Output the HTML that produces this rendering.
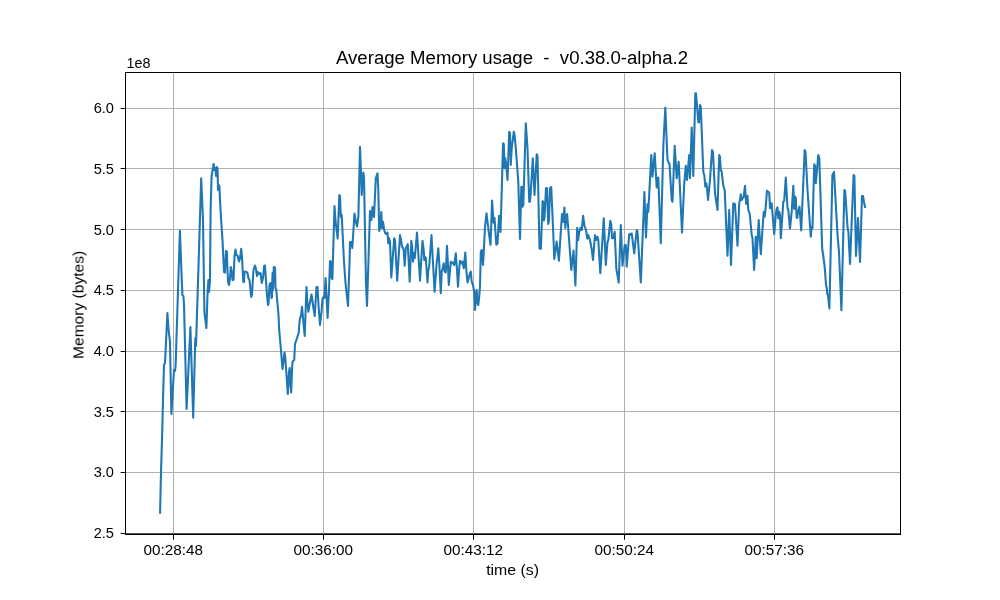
<!DOCTYPE html>
<html><head><meta charset="utf-8"><style>
html,body{margin:0;padding:0;background:#fff;width:1000px;height:600px;overflow:hidden}
svg{display:block}
.t{font-family:"Liberation Sans",sans-serif;font-size:14.4px;fill:#000}
.tt{font-family:"Liberation Sans",sans-serif;font-size:18px;fill:#000;white-space:pre}
</style></head><body>
<svg width="1000" height="600" viewBox="0 0 1000 600" shape-rendering="auto">
<rect x="125" y="533" width="776" height="1" fill="#b0b0b0"/>
<rect x="125" y="472" width="776" height="1" fill="#b0b0b0"/>
<rect x="125" y="411" width="776" height="1" fill="#b0b0b0"/>
<rect x="125" y="351" width="776" height="1" fill="#b0b0b0"/>
<rect x="125" y="290" width="776" height="1" fill="#b0b0b0"/>
<rect x="125" y="229" width="776" height="1" fill="#b0b0b0"/>
<rect x="125" y="168" width="776" height="1" fill="#b0b0b0"/>
<rect x="125" y="108" width="776" height="1" fill="#b0b0b0"/>
<rect x="173" y="72" width="1" height="462" fill="#b0b0b0"/>
<rect x="323" y="72" width="1" height="462" fill="#b0b0b0"/>
<rect x="473" y="72" width="1" height="462" fill="#b0b0b0"/>
<rect x="624" y="72" width="1" height="462" fill="#b0b0b0"/>
<rect x="774" y="72" width="1" height="462" fill="#b0b0b0"/>
<polyline points="160.1,512.7 161,472 162,440 163,400 164,365 165,363 167.4,313 168.6,330 170,342 171.4,414 174,370 175,371 175.6,366 179.9,230.8 181,260 182.4,295 183.4,296 184,304 186.6,409 190.4,327 193.2,417.6 195.3,338 196,346 199,250 201.2,178.4 203,220 204.4,312 206.4,328 207.6,292 208.4,280 209,292 210,280 210.6,210 211.6,176 212.6,170 213.6,164 214.4,170 215.4,168 216,176 217,167 217.6,170 218,190 218.6,185 219.4,186 220,200 221,218 222.5,240 224,272 225,272.5 226,251 226.8,251.5 228,282 229,285 230,278 230.8,267 231.5,270 232.5,280 233.5,280 234.5,256 235.5,249.5 236.2,255 237.5,255.5 239,261.5 240,258.5 241.2,248.8 242,257 243.3,282 244,282 244.5,272 246,271.5 247.5,273 248.5,278.5 249.5,280 251.2,297 252,294 253.5,270 255,265.5 256,269 257,276 258,272 259,274 260.5,273 261.8,283 263,278 264.2,265.8 265,265.5 266,281 267,295 268,305 268.5,304 269.5,285 270.5,283 271.5,298 272,297 272.5,273 273,290 273.8,267 275,267.5 275.5,288 276.2,289 277,298 278.5,315 279.2,330 280.8,348 282.5,369 284.5,352.5 285.3,358 286.7,378 287.8,394 289,372 289.7,368 290.3,383 291.2,392.5 292,370 292.5,361.7 294.2,360 295,344 296.7,339 298.7,333 299.2,325 300,318 301,316 302,306.7 303,318 304.7,336 306.5,287 307.2,300 308.3,311.7 309.5,305 311.5,294.5 313,305 314.7,316 316.5,287 317.5,287 318.5,305 320,325 321.5,312 322.5,299 323.5,297 324.4,298 325.6,278 327.6,318 329,290 330,261 331,262 331.6,278 332.4,279 334.5,206 335.6,222 337.7,238.5 339.3,195 340,196 340.8,216.7 341.7,215 344,262 345.6,284 348,306 349.6,260 350,242 351.5,242 352.3,248 354.5,213.5 355.5,220 357,226.5 358.4,216 360,146.7 361,173 361.7,195 363.3,172.5 364,178 366,284 367,306 368.5,260 370,211 371.4,220 372.5,207 374,217 375.8,178.3 377.5,173.3 378.3,190 379.2,231 380,228 381.3,212 382,228 383,221.7 384.2,230 385.3,233.3 386.5,234 387.5,232.5 388.3,243.3 389,238 390,241.7 391.3,277.5 394.2,238.3 395,240 397.2,280.8 400,235 401,240 402,246.7 403,248 403.7,250 404.7,265.8 405.8,248 406.7,246.7 407.8,244.2 409.7,281.7 411.3,240.8 412,245 413,261.7 413.7,253 414.7,258.3 415.5,250 417,232.5 420,280.8 422.5,240.8 423.7,250 424.3,260 425,257 425.8,258 427.5,282.5 428.3,270 429.2,266.7 431.5,235 432,245 434.6,291.7 436.5,265 438.3,248.3 439.2,261.7 440.8,293.3 441.7,271.7 442.5,269 443.7,263.3 444.7,271.7 445.8,272.5 447,245.8 448,266 448.8,285 450,270 450.8,261.7 452,263.3 453,262.5 454.2,265 455.8,253.3 457,270 458,286.7 459.2,268.3 460,260.8 461.3,263.3 462.5,261.7 463.8,268.3 465.3,252.5 466.3,270 467.5,282.5 468.7,278.3 470,273.3 470.8,271.7 471.7,281.7 473,285 474.2,291.7 475,310 476,295 476.7,290 477.5,303.3 478.3,305 479.2,296.7 480,286.7 480.8,251.7 481.7,250 483,265 483.7,253.3 485,226.7 486.5,213.3 488.5,230 490.5,244.8 492.1,200.5 493.5,222.7 494.5,218 496.3,244.8 497.5,243.6 499.1,215.7 500.5,232 502,181.7 503,143.3 503.8,144 504.5,168.3 505.3,158.3 506.3,165 507.5,180 509.2,131.7 510,133 510.8,165 511.7,148.3 513.8,131.7 514.6,135 515.8,148.3 518.3,181.7 520,239 521.3,186.7 522.2,187 522.5,206.7 523.3,205 525.8,123.3 527.5,148.3 529.2,201.7 530,201.7 530.8,191.7 532.8,158.3 534.5,195 536.7,154.2 537.5,156 539.5,248.5 540.9,248.8 542.6,201 543.3,202 543.8,220.4 544.5,218 546,188.3 547,188 548.2,224 549,220 550,188.3 551.2,187 552.5,215 554.3,258.9 556.7,241.5 558.9,260.7 562,214 563,222 564.4,207.5 565.3,228 566.2,217 567.1,214 568,225 571.3,270 573.5,250.6 575.4,285.5 577.2,227.7 578.1,240 579,233 580.5,227.7 581.8,230 583.1,215.8 584.5,226 586,230 587.3,238.7 588.2,235 590,240 591.7,249.2 593,260 595,235 596.3,240 597.5,236.7 598.3,240 600.3,273.3 603.8,218.3 605.8,265 607.5,241.7 608.3,240 610.3,220.8 611.3,225 612,238.3 613.3,238.3 614.7,231.7 616.3,268.3 618.7,282.5 620.8,225 622.5,265.8 624.7,245 625.8,245 626.7,266.7 629.2,234.2 630.3,235 631.7,233.3 634.2,253.3 636.7,230 637.5,231.7 640.8,282.5 644.4,192 646,237.5 647.5,204.2 648.3,211.7 651.3,155 652.5,176.7 654.7,153.3 656.7,187.5 658.3,177.5 660.8,243.3 663.3,146.7 665.3,107.5 667.5,160 668.7,162.5 669.5,164 671.7,200 672.5,201.7 674.7,145.8 676.7,178.3 678.7,161.7 682,232.5 684.2,184.2 685.8,165.8 687,180 689.2,155 690,178.3 691.7,127.5 693.3,176 695.3,93.3 696,93.3 698.3,121.7 699,122.5 700,105 700.8,107 703.3,171.7 703.7,173.3 704.3,175 705.3,186.7 706.3,183.3 707,188 708,200 710,180 712,150 713,152 715,193.3 717.5,210 719.2,155 720,157 720.8,170 721.7,171.7 723.3,185.8 724.7,190 727.5,255.8 729.2,210 731,265 733.3,203.3 735,204.2 737.5,245.8 739.2,203.3 740,200 740.8,194.2 741.7,200 742.5,198.3 743.7,197 745,185.8 746.2,204 747,196 747.5,195.8 748.3,210 749.7,213.3 751.7,235 752.5,238 754.1,270 755.8,236.7 756.7,258.3 758.7,220 760.8,254.2 763.7,211.7 764.7,216.7 765.3,211.7 767,190.8 768,191.7 769.2,192.5 770,208.3 770.8,203.3 771.7,203.3 774.2,234.2 775.8,215 776.7,208.3 777.5,207.5 778.3,218.3 779.2,211.7 780,215 780.8,238.3 783.3,201.7 784.2,200.8 785.8,177.5 787.5,208.3 788.3,210 790,228.3 791.7,211.7 793.3,185.8 794.2,209 795,196.5 795.8,198 796.6,217.5 797.2,218 798,212 799.5,206.5 801.2,230.5 804.7,150 805.5,152 807.5,190 810.8,236.7 811.7,226.7 812.5,228 814.2,164.2 815,166 815.8,183.3 818.3,155 819.3,158 822.2,249 823.3,256 824.7,267 826,285 826.7,287.5 827.3,294 828,295.5 829.4,308.5 832.4,175 834,172 837.6,236 839,252 841.4,310.3 844.4,190 845.2,191 847.6,228 848.4,232 850,264 853.6,175 854.4,176 856,256 858,218 860,262 862,196 863,196 864,202 865,207" fill="none" stroke="#1f77b4" stroke-width="2.08" stroke-linejoin="round" stroke-linecap="square"/>
<rect x="125" y="72" width="1" height="463" fill="#000"/>
<rect x="900" y="72" width="1" height="463" fill="#000"/>
<rect x="125" y="72" width="776" height="1" fill="#000"/>
<rect x="125" y="533.5" width="776" height="1.5" fill="#000"/>
<rect x="120.6" y="533" width="4.5" height="1" fill="#000"/>
<rect x="120.6" y="472" width="4.5" height="1" fill="#000"/>
<rect x="120.6" y="411" width="4.5" height="1" fill="#000"/>
<rect x="120.6" y="351" width="4.5" height="1" fill="#000"/>
<rect x="120.6" y="290" width="4.5" height="1" fill="#000"/>
<rect x="120.6" y="229" width="4.5" height="1" fill="#000"/>
<rect x="120.6" y="168" width="4.5" height="1" fill="#000"/>
<rect x="120.6" y="108" width="4.5" height="1" fill="#000"/>
<rect x="173" y="535" width="1" height="4.7" fill="#000"/>
<rect x="323" y="535" width="1" height="4.7" fill="#000"/>
<rect x="473" y="535" width="1" height="4.7" fill="#000"/>
<rect x="624" y="535" width="1" height="4.7" fill="#000"/>
<rect x="774" y="535" width="1" height="4.7" fill="#000"/>
<g style="filter:grayscale(1)"><text x="114" y="538.11" text-anchor="end" class="t" textLength="20.3" lengthAdjust="spacingAndGlyphs">2.5</text>
<text x="114" y="477.39" text-anchor="end" class="t" textLength="20.3" lengthAdjust="spacingAndGlyphs">3.0</text>
<text x="114" y="416.68" text-anchor="end" class="t" textLength="20.3" lengthAdjust="spacingAndGlyphs">3.5</text>
<text x="114" y="355.96" text-anchor="end" class="t" textLength="20.3" lengthAdjust="spacingAndGlyphs">4.0</text>
<text x="114" y="295.25" text-anchor="end" class="t" textLength="20.3" lengthAdjust="spacingAndGlyphs">4.5</text>
<text x="114" y="234.53" text-anchor="end" class="t" textLength="20.3" lengthAdjust="spacingAndGlyphs">5.0</text>
<text x="114" y="173.81" text-anchor="end" class="t" textLength="20.3" lengthAdjust="spacingAndGlyphs">5.5</text>
<text x="114" y="113.10" text-anchor="end" class="t" textLength="20.3" lengthAdjust="spacingAndGlyphs">6.0</text>
<text x="143.6" y="554.8" class="t" textLength="59.5" lengthAdjust="spacingAndGlyphs">00:28:48</text>
<text x="293.59999999999997" y="554.8" class="t" textLength="59.5" lengthAdjust="spacingAndGlyphs">00:36:00</text>
<text x="443.59999999999997" y="554.8" class="t" textLength="59.5" lengthAdjust="spacingAndGlyphs">00:43:12</text>
<text x="594.6" y="554.8" class="t" textLength="59.5" lengthAdjust="spacingAndGlyphs">00:50:24</text>
<text x="744.6" y="554.8" class="t" textLength="59.5" lengthAdjust="spacingAndGlyphs">00:57:36</text>
<text x="126.5" y="68" class="t">1e8</text>
<text x="486.2" y="574.6" class="t" textLength="52.9" lengthAdjust="spacingAndGlyphs">time (s)</text>
<text transform="translate(83.5,359) rotate(-90)" class="t" textLength="108.2" lengthAdjust="spacingAndGlyphs">Memory (bytes)</text>
<text x="336" y="64" class="tt" textLength="352" lengthAdjust="spacingAndGlyphs">Average Memory usage  -  v0.38.0-alpha.2</text></g>
</svg></body></html>
